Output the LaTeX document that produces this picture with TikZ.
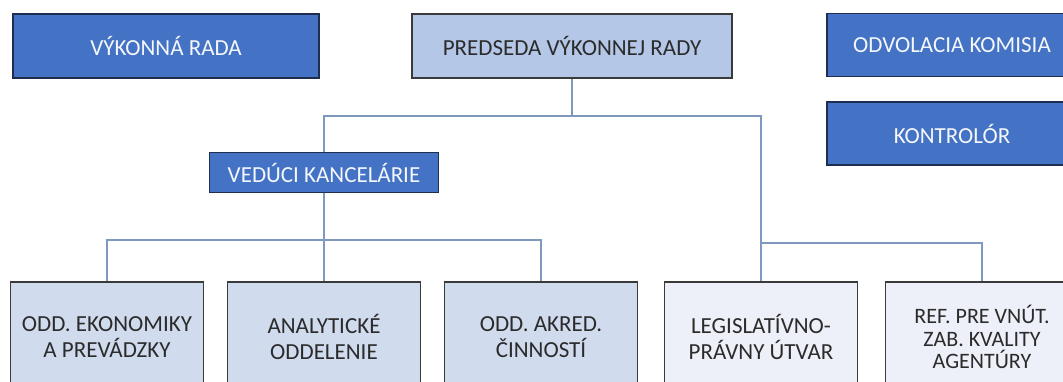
\documentclass[tikz,border=0pt]{standalone}
\usepackage{fontspec}
\setmainfont{Carlito}
\usetikzlibrary{calc}
\definecolor{darkbox}{HTML}{4472C4}
\definecolor{darkedge}{HTML}{1F2D4F}
\definecolor{midbox}{HTML}{B4C7E7}
\definecolor{lightbox}{HTML}{D0DBEE}
\definecolor{paleblue}{HTML}{EDF0F8}
\definecolor{greyedge}{HTML}{3A3A3A}
\definecolor{conn}{HTML}{7F98BE}
\definecolor{darktext}{HTML}{2B2B2B}
\tikzset{
  boxbase/.style={draw, line width=1.8pt, inner sep=0pt, align=center,
    font=\fontsize{23}{25.5}\selectfont},
  darkbx/.style={boxbase, fill=darkbox, draw=darkedge, text=white!94!darkbox},
  predbx/.style={boxbase, fill=midbox, draw=greyedge, text=darktext},
  lowbx/.style={boxbase, fill=lightbox, draw=greyedge, text=darktext,
    minimum width=193pt, minimum height=110pt},
  palebx/.style={boxbase, fill=paleblue, draw=greyedge, text=darktext,
    minimum width=193pt, minimum height=110pt},
  link/.style={draw=conn, line width=1.7pt}
}
\begin{document}
\begin{tikzpicture}[x=1pt,y=-1pt]
\path[use as bounding box] (0,0) rectangle (1063,381);
\clip (0,0) rectangle (1063,381);
\fill[white] (0,0) rectangle (1063,381);

% top row
\node[darkbx, minimum width=306pt, minimum height=64pt] (vr) at (166,46) {VÝKONNÁ RADA};
\node[predbx, minimum width=320pt, minimum height=64pt] (pred) at (572,46) {PREDSEDA VÝKONNEJ RADY};
\node[darkbx, minimum width=250pt, minimum height=63pt] (odv) at (952,45) {ODVOLACIA KOMISIA};
\node[darkbx, minimum width=250pt, minimum height=63pt] (kon) at (952,133.5) {KONTROLÓR};

% office head
\node[darkbx, minimum width=229pt, minimum height=40pt] (ved) at (324,172.5) {VEDÚCI KANCELÁRIE};

% bottom row
\node[lowbx] (eko) at (107,337) {ODD. EKONOMIKY\\A PREVÁDZKY};
\node[lowbx] (ana) at (324,337) {ANALYTICKÉ\\ODDELENIE};
\node[lowbx] (akr) at (541,337) {ODD. AKRED.\\ČINNOSTÍ};
\node[palebx] (leg) at (761,337) {LEGISLATÍVNO-\\PRÁVNY ÚTVAR};
\node[palebx, font=\fontsize{22}{22.5}\selectfont] (ref) at (982,337) {REF. PRE VNÚT.\\ZAB. KVALITY\\AGENTÚRY};

% connectors
\coordinate (jtop) at ($(pred.south)+(0,37)$);
\coordinate (jright) at ($(leg.north)+(0,-38)$);
\coordinate (jlow) at ($(ana.north)+(0,-41)$);

\draw[link] (pred.south) -- (jtop);
\draw[link] (ved.north) |- (jtop) -| (leg.north);
\draw[link] (jright) -| (ref.north);
\draw[link] (ved.south) -- (ana.north);
\draw[link] (eko.north) |- (jlow) -| (akr.north);
\end{tikzpicture}
\end{document}
